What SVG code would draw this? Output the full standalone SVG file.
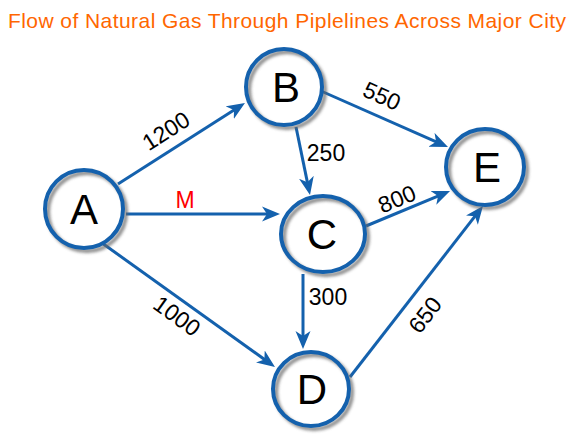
<svg xmlns="http://www.w3.org/2000/svg" width="575" height="443" viewBox="0 0 575 443">
<style>
.title{font-family:"Liberation Sans",Arial,sans-serif;font-size:21px;fill:#ff6600}
.edge{stroke:#1461ad;stroke-width:3;fill:none}
.lbl{font-family:"Liberation Sans",Arial,sans-serif;font-size:23px;fill:#000;text-anchor:middle}
.ring{fill:none;stroke:#1461ad;stroke-width:4}
.shadow{fill:none;stroke:#666;stroke-width:4;opacity:0.75;filter:url(#blur)}
.bg{fill:#fff}
.nl{font-family:"Liberation Sans",Arial,sans-serif;font-size:42px;fill:#000;text-anchor:middle}
</style>
<defs>
<filter id="blur" x="-20%" y="-20%" width="140%" height="140%"><feGaussianBlur stdDeviation="1.8"/></filter>
<marker id="arr" viewBox="0 -8 20 16" refX="12" refY="0" markerWidth="20" markerHeight="16" markerUnits="userSpaceOnUse" orient="auto">
<path d="M0,-7.5 L18,0 L0,7.5 L5,0 Z" fill="#1461ad"/>
</marker>
</defs>
<rect width="575" height="443" fill="#fff"/>
<text class="title" x="8" y="28" textLength="558" lengthAdjust="spacing">Flow of Natural Gas Through Piplelines Across Major City</text>
<g id="connectors">
<line class="edge" x1="118" y1="184" x2="239.9" y2="106.2" marker-end="url(#arr)"/>
<line class="edge" x1="126" y1="214" x2="274" y2="214" marker-end="url(#arr)"/>
<line class="edge" x1="102" y1="243" x2="270.1" y2="363.5" marker-end="url(#arr)"/>
<line class="edge" x1="296" y1="127" x2="308.8" y2="189.1" marker-end="url(#arr)"/>
<line class="edge" x1="321" y1="91" x2="442.5" y2="144.6" marker-end="url(#arr)"/>
<line class="edge" x1="366" y1="226" x2="444.5" y2="193.3" marker-end="url(#arr)"/>
<line class="edge" x1="303" y1="274" x2="303" y2="343" marker-end="url(#arr)"/>
<line class="edge" x1="350" y1="377" x2="479.3" y2="210.7" marker-end="url(#arr)"/>
<text class="lbl" transform="translate(166,131) rotate(-32.5)" x="0" y="8">1200</text>
<text class="lbl" x="185" y="208" style="fill:#ff0000">M</text>
<text class="lbl" transform="translate(177,316) rotate(35.6)" x="0" y="8">1000</text>
<text class="lbl" x="326" y="161">250</text>
<text class="lbl" transform="translate(382,96) rotate(23.8)" x="0" y="8">550</text>
<text class="lbl" transform="translate(397,199) rotate(-22.6)" x="0" y="8">800</text>
<text class="lbl" x="328" y="305">300</text>
<text class="lbl" transform="translate(425,315) rotate(-52.5)" x="0" y="8">650</text>
</g>
<g id="node-A">
<ellipse class="bg" cx="84" cy="209" rx="39" ry="39"/>
<ellipse class="shadow" cx="87" cy="212" rx="39" ry="39"/>
<ellipse class="ring" cx="84" cy="209" rx="39" ry="39"/>
<text class="nl" x="84" y="224">A</text>
</g>
<g id="node-B">
<ellipse class="bg" cx="284" cy="87" rx="38" ry="38"/>
<ellipse class="shadow" cx="287" cy="90" rx="38" ry="38"/>
<ellipse class="ring" cx="284" cy="87" rx="38" ry="38"/>
<text class="nl" x="286" y="102">B</text>
</g>
<g id="node-C">
<ellipse class="bg" cx="323" cy="234" rx="42" ry="38"/>
<ellipse class="shadow" cx="326" cy="237" rx="42" ry="38"/>
<ellipse class="ring" cx="323" cy="234" rx="42" ry="38"/>
<text class="nl" x="322" y="249">C</text>
</g>
<g id="node-D">
<ellipse class="bg" cx="311" cy="389" rx="38" ry="37"/>
<ellipse class="shadow" cx="314" cy="392" rx="38" ry="37"/>
<ellipse class="ring" cx="311" cy="389" rx="38" ry="37"/>
<text class="nl" x="312" y="404">D</text>
</g>
<g id="node-E">
<ellipse class="bg" cx="485" cy="167" rx="39" ry="38"/>
<ellipse class="shadow" cx="488" cy="170" rx="39" ry="38"/>
<ellipse class="ring" cx="485" cy="167" rx="39" ry="38"/>
<text class="nl" x="487" y="182">E</text>
</g>
</svg>
